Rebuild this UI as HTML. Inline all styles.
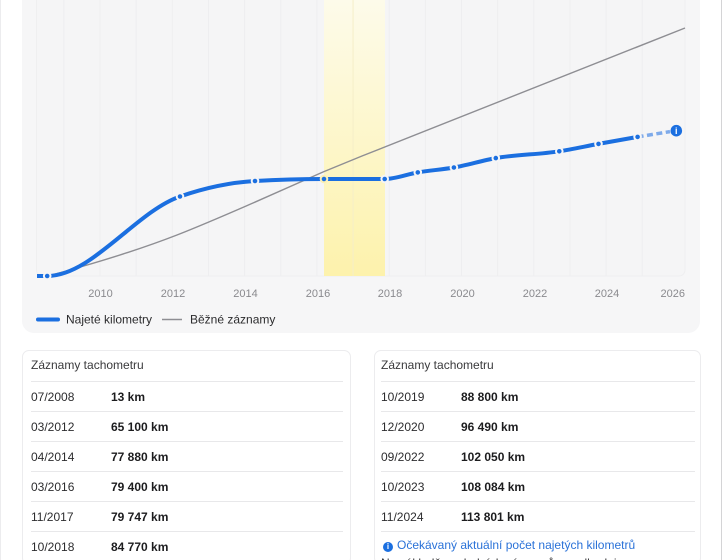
<!DOCTYPE html>
<html>
<head>
<meta charset="utf-8">
<style>
  html,body{margin:0;padding:0;background:#fff;width:724px;height:560px;overflow:hidden;}
  body{position:relative;font-family:"Liberation Sans",Arial,sans-serif;color:#2c2c2e;}
  .edgeR{position:absolute;left:721px;top:0;width:1px;height:560px;background:#d4d4d6;}
  .edgeL{position:absolute;left:0;top:0;width:1px;height:560px;background:#ececee;}
  svg{position:absolute;left:0;top:0;}
  .card{position:absolute;top:350px;height:215px;border:1px solid #ececee;border-radius:7px;background:#fff;box-sizing:border-box;overflow:hidden;}
  .card .title{position:absolute;left:8px;top:7px;font-size:12px;color:#3a3a3c;}
  .row{position:absolute;left:8px;height:30px;border-top:1px solid #e8e8ea;font-size:12px;}
  .row .d{position:absolute;left:0;top:8px;color:#2c2c2e;}
  .row .v{position:absolute;top:8px;font-weight:bold;color:#1c1c1e;}
  .info{position:absolute;left:8px;top:187px;font-size:12px;color:#2a72d8;white-space:nowrap;}
  .info .ic{display:inline-block;width:10px;height:10px;border-radius:50%;background:#1b6fe0;color:#fff;font-size:8px;font-weight:bold;text-align:center;line-height:10px;vertical-align:0px;margin-right:4px;}
  .cut{position:absolute;left:8px;top:205px;font-size:12px;color:#3a3a3c;white-space:nowrap;}
</style>
</head>
<body>
<div class="edgeL"></div>
<div class="edgeR"></div>

<svg width="724" height="345" viewBox="0 0 724 345" xmlns="http://www.w3.org/2000/svg">
  <defs>
    <linearGradient id="yg" x1="0" y1="0" x2="0" y2="1">
      <stop offset="0" stop-color="#fdfbea"/>
      <stop offset="1" stop-color="#fdf2ac"/>
    </linearGradient>
  </defs>
  <rect x="22" y="-20" width="678" height="353" rx="12" fill="#f6f6f7"/>
  <rect x="36.5" y="-10" width="648.5" height="286" rx="6" fill="#f5f5f6" stroke="#efeff0" stroke-width="1"/>
  <rect x="324" y="0" width="61" height="276" fill="url(#yg)"/>
  <g stroke="#eeeef0" stroke-width="1">
    <line x1="63.85" y1="0" x2="63.85" y2="276"/>
    <line x1="100" y1="0" x2="100" y2="276"/>
    <line x1="136.15" y1="0" x2="136.15" y2="276"/>
    <line x1="172.3" y1="0" x2="172.3" y2="276"/>
    <line x1="208.45" y1="0" x2="208.45" y2="276"/>
    <line x1="244.6" y1="0" x2="244.6" y2="276"/>
    <line x1="280.75" y1="0" x2="280.75" y2="276"/>
    <line x1="316.9" y1="0" x2="316.9" y2="276"/>
    <line x1="353.05" y1="0" x2="353.05" y2="276" stroke="#f5eec8"/>
    <line x1="389.2" y1="0" x2="389.2" y2="276"/>
    <line x1="425.35" y1="0" x2="425.35" y2="276"/>
    <line x1="461.5" y1="0" x2="461.5" y2="276"/>
    <line x1="497.65" y1="0" x2="497.65" y2="276"/>
    <line x1="533.8" y1="0" x2="533.8" y2="276"/>
    <line x1="569.95" y1="0" x2="569.95" y2="276"/>
    <line x1="606.1" y1="0" x2="606.1" y2="276"/>
    <line x1="642.25" y1="0" x2="642.25" y2="276"/>
  </g>
  <path d="M47,276 C60,273 70,270 82,266.5 C115,257 150,245.5 177,235 C205,224 230,213 253,203 C277,192.5 300,182 323,172 L362,156 L685,28" fill="none" stroke="#8e8e93" stroke-width="1.4"/>
  <path d="M37,276 L47.2,276 C91.47,276 135.73,211.91 180,196.5 C205,187.8 230,182.45 255,181 C278,179.67 301,179 324,179 L384.7,179 C395.73,179 406.77,174.26 417.8,172.4 C429.83,170.37 441.87,169.63 453.9,167.5 C467.87,165.03 481.83,160.58 495.8,158.1 C516.97,154.34 538.13,154.64 559.3,151.3 C572.37,149.24 585.43,146.3 598.5,143.9 C611.53,141.5 624.57,139.2 637.6,136.9" fill="none" stroke="#1b6fe0" stroke-width="4" stroke-linecap="butt"/>
  <path d="M637.6,136.9 L670,131.6" fill="none" stroke="#7eaaea" stroke-width="3.5" stroke-dasharray="6 3.5"/>
  <g fill="#1b6fe0" stroke="#f5f5f6" stroke-width="2">
    <circle cx="47.2" cy="276" r="3.3"/>
    <circle cx="180" cy="196.5" r="3.3"/>
    <circle cx="255" cy="181" r="3.3"/>
    <circle cx="324" cy="179" r="3.3" stroke="#fcf0b4"/>
    <circle cx="384.7" cy="179" r="3.3"/>
    <circle cx="417.8" cy="172.4" r="3.3"/>
    <circle cx="453.9" cy="167.5" r="3.3"/>
    <circle cx="495.8" cy="158.1" r="3.3"/>
    <circle cx="559.3" cy="151.3" r="3.3"/>
    <circle cx="598.5" cy="143.9" r="3.3"/>
    <circle cx="637.6" cy="136.9" r="3.3"/>
  </g>
  <circle cx="676.3" cy="130.7" r="5.8" fill="#1b6fe0"/>
  <text x="676.3" y="134.2" text-anchor="middle" font-family="Liberation Sans, sans-serif" font-size="9" font-weight="bold" fill="#fff">i</text>
  <g font-family="Liberation Sans, sans-serif" font-size="11" fill="#8a8a8e" text-anchor="middle">
    <text x="100.5" y="297">2010</text>
    <text x="173" y="297">2012</text>
    <text x="245.5" y="297">2014</text>
    <text x="318" y="297">2016</text>
    <text x="390" y="297">2018</text>
    <text x="462.5" y="297">2020</text>
    <text x="535" y="297">2022</text>
    <text x="607" y="297">2024</text>
    <text x="685" y="297" text-anchor="end">2026</text>
  </g>
  <line x1="38" y1="319.5" x2="58" y2="319.5" stroke="#1b6fe0" stroke-width="4" stroke-linecap="round"/>
  <text x="66" y="323.5" font-family="Liberation Sans, sans-serif" font-size="12" fill="#2c2c2e">Najeté kilometry</text>
  <line x1="162" y1="319.5" x2="182" y2="319.5" stroke="#8e8e93" stroke-width="1.4"/>
  <text x="190" y="323.5" font-family="Liberation Sans, sans-serif" font-size="12" fill="#2c2c2e">Běžné záznamy</text>
</svg>

<div class="card" style="left:22px;width:329px;">
  <div class="title">Záznamy tachometru</div>
  <div class="row" style="top:30px;width:312px;"><span class="d">07/2008</span><span class="v" style="left:80px;">13 km</span></div>
  <div class="row" style="top:60px;width:312px;"><span class="d">03/2012</span><span class="v" style="left:80px;">65 100 km</span></div>
  <div class="row" style="top:90px;width:312px;"><span class="d">04/2014</span><span class="v" style="left:80px;">77 880 km</span></div>
  <div class="row" style="top:120px;width:312px;"><span class="d">03/2016</span><span class="v" style="left:80px;">79 400 km</span></div>
  <div class="row" style="top:150px;width:312px;"><span class="d">11/2017</span><span class="v" style="left:80px;">79 747 km</span></div>
  <div class="row" style="top:180px;width:312px;"><span class="d">10/2018</span><span class="v" style="left:80px;">84 770 km</span></div>
</div>

<div class="card" style="left:374px;width:327px;">
  <div class="title" style="left:6px;">Záznamy tachometru</div>
  <div class="row" style="left:6px;top:30px;width:314px;"><span class="d">10/2019</span><span class="v" style="left:80px;">88 800 km</span></div>
  <div class="row" style="left:6px;top:60px;width:314px;"><span class="d">12/2020</span><span class="v" style="left:80px;">96 490 km</span></div>
  <div class="row" style="left:6px;top:90px;width:314px;"><span class="d">09/2022</span><span class="v" style="left:80px;">102 050 km</span></div>
  <div class="row" style="left:6px;top:120px;width:314px;"><span class="d">10/2023</span><span class="v" style="left:80px;">108 084 km</span></div>
  <div class="row" style="left:6px;top:150px;width:314px;"><span class="d">11/2024</span><span class="v" style="left:80px;">113 801 km</span></div>
  <div class="row" style="left:6px;top:180px;width:314px;"></div>
  <div class="info" style="left:8px;"><span class="ic">i</span>Očekávaný aktuální počet najetých kilometrů</div>
  <div class="cut" style="left:6px;">Na základě posledních záznamů se odhaduje</div>
</div>
</body>
</html>
